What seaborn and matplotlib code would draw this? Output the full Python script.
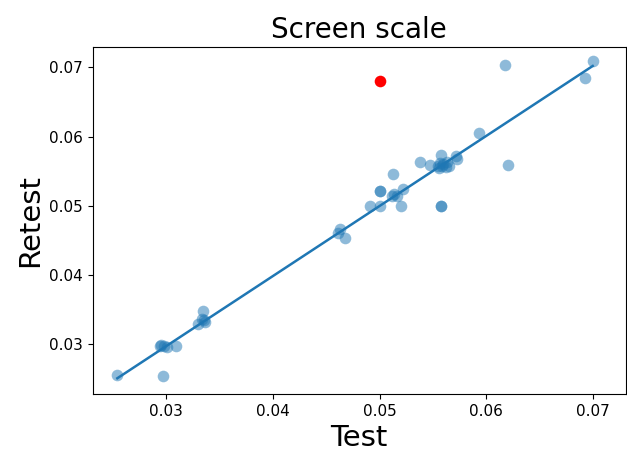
import matplotlib
matplotlib.use("Agg")
import matplotlib.pyplot as plt
import seaborn as sns
import pandas as pd

# Data
test = [0.0254, 0.0297, 0.0294, 0.0298, 0.0301, 0.0309, 0.0295,
        0.0334, 0.0333, 0.0336, 0.0330, 0.0335,
        0.0461, 0.0463, 0.0468,
        0.0491, 0.0500, 0.0500, 0.0500, 0.0520, 0.0513, 0.0512, 0.0516, 0.0514, 0.0522,
        0.0538, 0.0547, 0.0555, 0.0558, 0.0559, 0.0563, 0.0565, 0.0572, 0.0573,
        0.0556, 0.0560, 0.0562, 0.0557, 0.0558, 0.0558,
        0.0593, 0.0618, 0.0621, 0.0693, 0.0700]
retest = [0.0256, 0.0254, 0.0297, 0.0297, 0.0296, 0.0298, 0.0299,
          0.0348, 0.0336, 0.0332, 0.0329, 0.0335,
          0.0461, 0.0467, 0.0453,
          0.0500, 0.0500, 0.0521, 0.0521, 0.0500, 0.0546, 0.0514, 0.0514, 0.0517, 0.0524,
          0.0564, 0.0559, 0.0558, 0.0573, 0.0558, 0.0563, 0.0558, 0.0572, 0.0568,
          0.0555, 0.0560, 0.0556, 0.0562, 0.0500, 0.0500,
          0.0605, 0.0704, 0.0559, 0.0684, 0.0710]
outlier_test = [0.0500]
outlier_retest = [0.0681]

df = pd.DataFrame({"Test": test, "Retest": retest})
df_out = pd.DataFrame({"Test": outlier_test, "Retest": outlier_retest})

fig = plt.figure(figsize=(6.27, 4.53), dpi=100)
ax = fig.add_axes([0.148, 0.130, 0.850, 0.767])

sns.regplot(data=df, x="Test", y="Retest", ax=ax, ci=None, color="#1f77b4",
            scatter_kws={"s": 70, "alpha": 0.5, "linewidths": 0},
            line_kws={"linewidth": 1.8})
sns.scatterplot(data=df_out, x="Test", y="Retest", ax=ax, color="red", s=70,
                linewidth=0, legend=False)

ax.set_xlim(0.0231, 0.0731)
ax.set_ylim(0.0228, 0.0730)
ax.set_xticks([0.03, 0.04, 0.05, 0.06, 0.07])
ax.set_yticks([0.03, 0.04, 0.05, 0.06, 0.07])
ax.tick_params(labelsize=11)
ax.set_title("Screen scale", fontsize=20)
ax.set_xlabel("Test", fontsize=21)
ax.set_ylabel("Retest", fontsize=21)

fig.savefig("out.png", dpi=100)
